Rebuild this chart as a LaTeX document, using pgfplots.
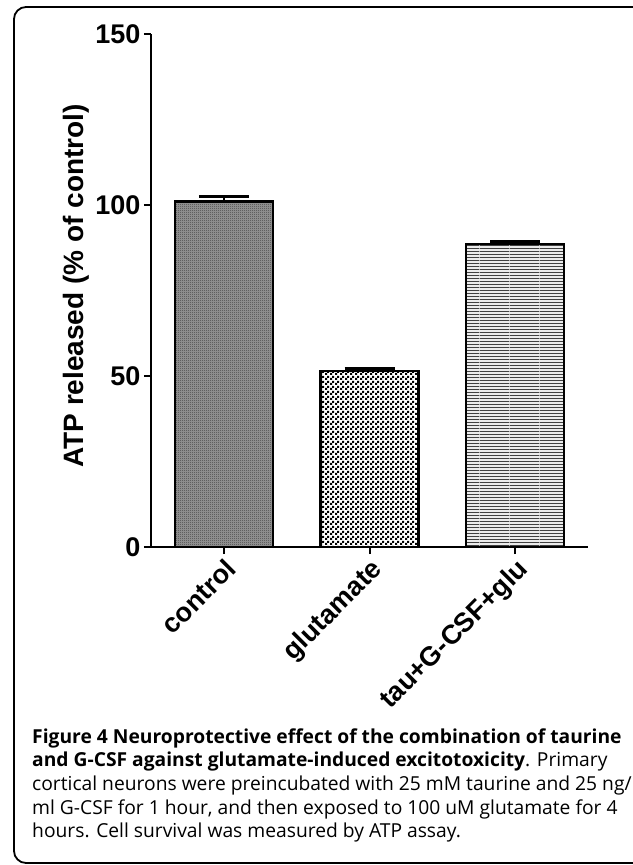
\documentclass[border=0pt]{standalone}
\usepackage{fontspec}
\setmainfont{Liberation Sans}
\newfontfamily\capfont{Open Sans}
\usepackage{pgfplots}
\pgfplotsset{compat=1.18}
\usetikzlibrary{patterns}

% bar fills of the original figure
\pgfdeclarepatternformonly{finecheck}{\pgfpointorigin}{\pgfqpoint{2bp}{2bp}}{\pgfqpoint{2bp}{2bp}}{%
  \pgfpathrectangle{\pgfpointorigin}{\pgfqpoint{1bp}{1bp}}%
  \pgfpathrectangle{\pgfqpoint{1bp}{1bp}}{\pgfqpoint{1bp}{1bp}}%
  \pgfusepath{fill}}
\pgfdeclarepatternformonly{coarsecheck}{\pgfpointorigin}{\pgfqpoint{5bp}{5bp}}{\pgfqpoint{5bp}{5bp}}{%
  \pgfpathrectangle{\pgfpointorigin}{\pgfqpoint{2.5bp}{2.5bp}}%
  \pgfpathrectangle{\pgfqpoint{2.5bp}{2.5bp}}{\pgfqpoint{2.5bp}{2.5bp}}%
  \pgfusepath{fill}}
\pgfdeclarepatternformonly{hlines}{\pgfpointorigin}{\pgfqpoint{30bp}{3.2bp}}{\pgfqpoint{30bp}{3.2bp}}{%
  \pgfpathrectangle{\pgfpointorigin}{\pgfqpoint{30bp}{1.2bp}}%
  \pgfusepath{fill}}

\newcommand\capsize{\capfont\fontsize{19.25bp}{23bp}\selectfont}

\begin{document}
\begin{tikzpicture}
\useasboundingbox (0,0) rectangle (633bp,-865bp);
\draw[line width=1.8bp, rounded corners=12bp] (14bp,-7bp) rectangle (645bp,-863bp);
\begin{axis}[
    at={(151bp,-547bp)}, anchor=south west,
    scale only axis, width=437bp, height=513bp,
    xmin=-0.5, xmax=2.5, ymin=0, ymax=150,
    axis x line*=bottom, axis y line*=left,
    axis line style={line width=2bp, -},
    tick align=outside, major tick length=7bp,
    tick style={line width=2bp, black},
    xtick={0,1,2},
    xticklabels={control, glutamate, tau+G-CSF+glu},
    ytick={0,50,100,150},
    /pgf/number format/assume math mode=true,
    tick label style={font=\bfseries\fontsize{27bp}{30bp}\selectfont},
    x tick label style={rotate=45, anchor=north east, inner sep=2bp},
    ylabel={ATP released (\% of control)},
    ylabel style={at={(axis description cs:-0.172,0.509)}, anchor=center,
        font=\bfseries\fontsize{28bp}{30bp}\selectfont},
    every axis plot/.append style={ybar, bar width=98bp, draw=black,
        line width=2.5bp,
        error bars/y dir=plus, error bars/y explicit,
        error bars/error mark=|,
        error bars/error bar style={line width=2bp},
        error bars/error mark options={line width=3bp, mark size=25bp}},
]
\addplot[fill=black!40, postaction={pattern=finecheck, pattern color=black!75}]
    coordinates {(0,101.0) +- (0,1.4)};
\addplot[pattern=coarsecheck, pattern color=black]
    coordinates {(1,51.4) +- (0,0.7)};
\addplot[fill=black!8, postaction={pattern=hlines, pattern color=black!75}]
    coordinates {(2,88.6) +- (0,0.7)};
\end{axis}
\node[anchor=base west, inner sep=0] at (32bp,-743bp)
    {\capsize\bfseries Figure 4 Neuroprotective effect of the combination of taurine};
\node[anchor=base west, inner sep=0] at (32bp,-766.7bp)
    {\capsize{\bfseries and G-CSF against glutamate-induced excitotoxicity}. Primary};
\node[anchor=base west, inner sep=0] at (32bp,-790.4bp)
    {\capsize cortical neurons were preincubated with 25 mM taurine and 25 ng/};
\node[anchor=base west, inner sep=0] at (32bp,-814.1bp)
    {\capsize ml G-CSF for 1 hour, and then exposed to 100 uM glutamate for 4};
\node[anchor=base west, inner sep=0] at (32bp,-837.8bp)
    {\capsize hours. Cell survival was measured by ATP assay.};
\end{tikzpicture}
\end{document}
